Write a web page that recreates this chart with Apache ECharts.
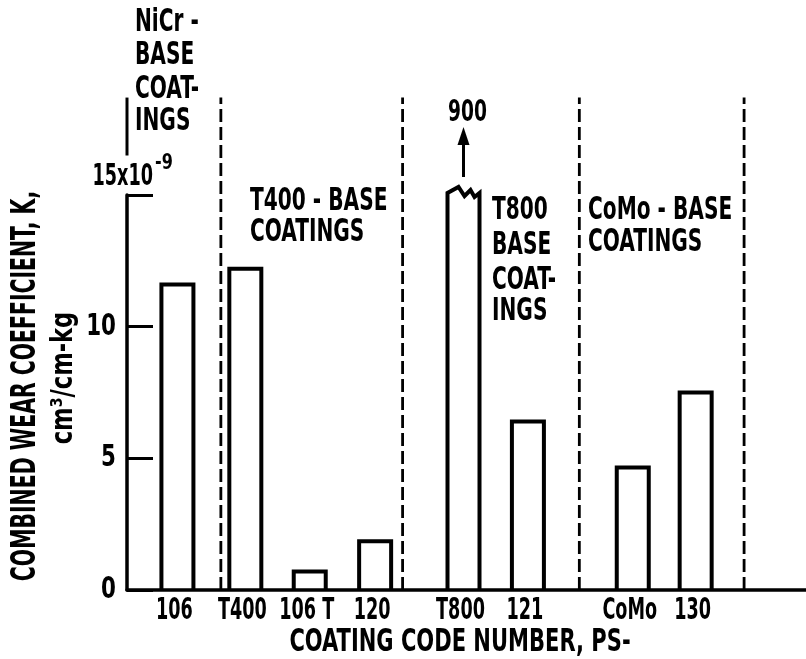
<!DOCTYPE html>
<html><head><meta charset="utf-8">
<script src="https://cdn.jsdelivr.net/npm/echarts@6/dist/echarts.min.js"></script>
<style>html,body{margin:0;padding:0;background:#fff}#c{width:806px;height:659px}</style>
</head><body><div id="c"></div>
<script>
// ---- data ----
const categories = ['106', 'T400', '106 T', '120', 'T800', '121', 'CoMo', '130'];
const positions  = [5.05, 11.85, 18.3, 24.85, 33.7, 40.15, 50.65, 56.95];   // slot positions along the code axis
const values     = [11.6, 12.2, 0.7, 1.85, 900, 6.4, 4.65, 7.5];           // K, x10^-9 cm^3/cm-kg
const separators = [9.4, 27.6, 45.3, 61.8];                                  // dashed group boundaries
const yTicks     = [0, 5, 10, 15];
const groupNiCr  = ['NiCr -', 'BASE', 'COAT-', 'INGS'];
const groupT400  = ['T400 - BASE', 'COATINGS'];
const groupT800  = ['T800', 'BASE', 'COAT-', 'INGS'];
const groupCoMo  = ['CoMo - BASE', 'COATINGS'];

const FONT = "'Liberation Sans Narrow','DejaVu Sans Condensed','Noto Sans',sans-serif";
const Y_MAX = 15, SEP_TOP = 18.7;

function txt(text, x, y, size, align, extra) {
  return Object.assign({
    type: 'text', x: x, y: y, scaleX: 0.83, scaleY: 1.15,
    style: { text: text, font: 'bold ' + size + 'px ' + FONT, fill: '#000',
      align: align, verticalAlign: 'middle', textAlign: align, textVerticalAlign: 'middle' }
  }, extra || {});
}
function lines(arr, x, ys, size) { return arr.map((t, i) => txt(t, x, ys[i], size, 'left')); }

const chart = echarts.init(document.getElementById('c'));
chart.setOption({
  backgroundColor: '#fff',
  animation: false,
  grid: { left: 127, right: 0, top: 195, bottom: 69, containLabel: false, outerBoundsMode: 'none' },
  xAxis: {
    type: 'value', min: 0, max: 68,
    axisLine: { show: true, lineStyle: { color: '#000', width: 3.5 } },
    axisTick: { show: false },
    splitLine: { show: false },
    axisLabel: { show: false }
  },
  yAxis: {
    type: 'value', min: 0, max: Y_MAX, interval: 5,
    axisLine: { show: true, lineStyle: { color: '#000', width: 3.5 } },
    axisTick: { show: true, inside: true, length: 26, lineStyle: { color: '#000', width: 3 } },
    splitLine: { show: false },
    axisLabel: { show: false }
  },
  series: [
    {
      type: 'custom', name: 'separators', clip: false, silent: true,
      data: separators.map(s => [s, 0]),
      renderItem: function (params, api) {
        const p0 = api.coord([api.value(0), 0]);
        const p1 = api.coord([api.value(0), SEP_TOP]);
        return { type: 'line', shape: { x1: p0[0], y1: p0[1], x2: p1[0], y2: p1[1] },
          style: { stroke: '#000', lineWidth: 2.8, lineDash: [13, 5] } };
      }
    },
    {
      type: 'custom', name: 'bracket', clip: false, silent: true,
      data: [[0, 0]],
      renderItem: function (params, api) {
        const p0 = api.coord([0, 16.5]);
        const p1 = api.coord([0, SEP_TOP]);
        return { type: 'line', shape: { x1: p0[0], y1: p0[1], x2: p1[0], y2: p1[1] },
          style: { stroke: '#000', lineWidth: 3 } };
      }
    },
    {
      type: 'custom', name: 'xLabels', clip: false, silent: true,
      data: positions.map(p => [p, 0]),
      renderItem: function (params, api) {
        const c = api.coord([api.value(0), 0]);
        return txt(categories[params.dataIndex], c[0] - 3, c[1] + 21, 28, 'center', { scaleX: 0.7, scaleY: 1.1 });
      }
    },
    {
      type: 'custom', name: 'yLabels', clip: false, silent: true,
      data: yTicks.map(v => [0, v]),
      renderItem: function (params, api) {
        const v = api.value(1);
        const c = api.coord([0, v]);
        if (v === yTicks[yTicks.length - 1]) {
          return { type: 'group', children: [
            txt('15x10', c[0] + 26, c[1] - 18, 28, 'right', { scaleX: 0.7, scaleY: 1.05 }),
            txt('-9', c[0] + 28, c[1] - 32, 21, 'left', { scaleX: 0.85, scaleY: 1.05 })
          ] };
        }
        return txt(String(v), c[0] - 11, c[1], 28, 'right', { scaleX: 0.85, scaleY: 1.1 });
      }
    },
    {
      type: 'custom', name: 'K', clip: false,
      data: positions.map((p, i) => [p, values[i]]),
      renderItem: function (params, api) {
        const x = api.value(0), v = api.value(1);
        const broken = v > Y_MAX;
        const base = api.coord([x, 0]);
        const top = api.coord([x, broken ? Y_MAX : v]);
        const hw = 16, L = base[0] - hw, R = base[0] + hw, cx = base[0];
        const children = [];
        let pts;
        if (!broken) {
          pts = [[L, base[1]], [L, top[1]], [R, top[1]], [R, base[1]]];
        } else {
          const t = top[1] - 2;
          pts = [[L, base[1]], [L, t], [L + 11, t - 6], [L + 17, t + 3], [L + 23, t - 3], [L + 27, t + 4], [R, t], [R, base[1]]];
          children.push({ type: 'line', shape: { x1: cx, y1: t - 16, x2: cx, y2: t - 52 }, style: { stroke: '#000', lineWidth: 3 } });
          children.push({ type: 'polygon', shape: { points: [[cx, t - 66], [cx - 6, t - 48], [cx + 6, t - 48]] }, style: { fill: '#000' } });
          children.push(txt(String(v), cx + 4, t - 80, 28, 'center', { scaleX: 0.74, scaleY: 1.05 }));
        }
        children.unshift({ type: 'polyline', shape: { points: pts },
          style: { stroke: '#000', lineWidth: 4, fill: null, lineJoin: 'miter' } });
        return { type: 'group', children: children };
      }
    }
  ],
  graphic: [
    txt('COMBINED WEAR COEFFICIENT, K,', 26, 386, 27, 'center', { rotation: Math.PI / 2, scaleX: 0.84, scaleY: 1.27 }),
    txt('cm³/cm-kg', 64, 378, 27, 'center', { rotation: Math.PI / 2, scaleX: 0.93, scaleY: 1.1 }),
    txt('COATING CODE NUMBER, PS-', 460, 643, 28, 'center', { scaleX: 0.835, scaleY: 1.12 })
  ].concat(
    lines(groupNiCr, 135, [23, 56, 90, 122], 27),
    lines(groupT400, 250, [202, 233], 27),
    lines(groupT800, 492, [211, 246, 281, 312], 27),
    lines(groupCoMo, 588, [211, 243], 27)
  )
});
</script>
</body></html>
